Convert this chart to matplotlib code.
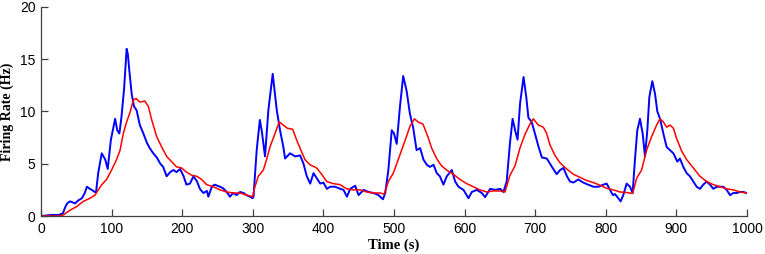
import matplotlib
matplotlib.use("Agg")
import matplotlib.pyplot as plt

# Blue trace (measured firing rate)
t_blue = [0, 15, 25, 31, 34, 37, 41, 45, 48, 53, 58, 62, 65, 69, 72, 76, 78, 81, 86, 91, 94.5, 99, 105, 108, 111, 114,
          117.6, 121.3, 123, 125, 128.4, 131.7, 135.5, 140, 145, 150, 154, 159, 164, 169, 173, 178, 183, 187.5, 192,
          197, 202, 206, 211, 216, 221, 225, 230, 235, 237, 242, 246, 253.5, 258, 263, 267.6, 272, 277, 282, 287, 291,
          296, 299.8,
          301, 305.5, 310, 313, 317.3, 322, 328.2, 334, 338.6, 343.3, 345.7, 352.8, 360, 367, 371.8, 376.5, 381.3, 386,
          390.7, 395.5, 400, 405, 409.6, 416.7, 423.8, 428.5, 433.3, 438, 445, 449.8, 457, 464, 471, 478, 484.3, 487.6,
          492, 496.8, 500, 503.8, 508.5, 513, 517.8, 522.5, 527.3, 532, 537, 541.7, 546.5, 551, 556, 560.6, 565, 570,
          574.8, 581.8, 586.6, 591.3, 598.4, 605.5, 610.2, 617.3, 624.4, 629, 636.2, 643.3, 650.4, 655,
          659.6, 664.3, 668, 671.5, 675, 678.6, 683.5, 687.5, 690.4, 695, 700, 704.8, 709.5, 716.4, 721, 725.6, 730.4,
          735.3, 740, 745, 749.3, 754.2, 761, 768, 775, 782.5, 789.5, 796.5, 801.2, 806, 810, 813, 817.7, 821, 824.8,
          829.5, 834.3, 838,
          841.3, 844.6, 848.4, 852.2, 855.5, 858.8, 861.7, 865.9, 869.7, 873, 876.8, 881.5, 886.2, 891, 895.7, 901.3,
          905, 909.8, 914.5, 919.2, 924, 928.7, 933.4, 938.1, 942.8, 947.6, 952.3, 957, 961.8, 966.5, 971.2, 976,
          980.6, 985.4, 990, 994.8, 999.5]
blue = [0, 0.1, 0.1, 0.25, 0.8, 1.2, 1.4, 1.3, 1.2, 1.5, 1.7, 2.2, 2.8, 2.6, 2.5, 2.3, 2.3, 4.1, 6.0, 5.4, 4.5, 7.3, 9.3,
        8.2, 7.9, 9.5, 12.1, 16.0, 15.5, 14.0, 11.7, 10.5, 10.1, 8.7, 7.9, 7.0, 6.5, 6.0, 5.6, 5.0, 4.7, 3.8, 4.2, 4.4,
        4.2, 4.5, 3.8, 3.0, 3.1, 3.8, 3.3, 2.6, 2.2, 2.4, 1.85, 2.8, 3.0, 2.8, 2.65, 2.3, 1.85, 2.2, 2.0, 2.3, 2.2, 2.0,
        1.85, 1.7,
        1.85, 6.3, 9.2, 8.0, 5.7, 10.1, 13.6, 10.1, 8.2, 6.6, 5.5, 6.0, 5.7, 5.8, 5.0, 3.8, 3.1, 4.1, 3.6, 3.1, 3.2, 2.6,
        2.8, 2.8, 2.6, 2.5, 1.85, 2.6, 2.9, 2.0, 2.5, 2.3, 2.2, 2.0, 1.6, 2.2,
        4.4, 8.2, 7.9, 6.9, 10.5, 13.4, 12.0, 9.8, 8.4, 6.3, 6.5, 5.4, 4.9, 4.7, 4.9, 4.1, 3.8, 3.0, 3.8, 4.4, 3.3, 2.8,
        2.5, 1.7, 2.3, 2.5, 2.2, 1.8, 2.6, 2.5, 2.6, 2.3,
        3.3, 7.0, 9.3, 8.2, 7.3, 10.8, 13.3, 11.3, 9.4, 9.0, 7.8, 6.6, 5.6, 5.5, 5.0, 4.5, 4.0, 4.4, 4.6, 3.8, 3.3, 3.2,
        3.5, 3.2, 3.0, 2.8, 2.8, 3.0, 3.1, 2.5, 2.0, 2.1, 1.7, 1.4, 2.0, 3.1, 2.8, 2.2,
        5.4, 8.2, 9.3, 7.9, 5.7, 8.2, 11.4, 12.9, 11.7, 10.0, 9.3, 7.9, 6.6, 6.3, 6.0, 5.2, 5.5, 4.7, 4.1, 3.8, 3.3, 2.8,
        2.6, 3.0, 3.3, 3.0, 2.6, 2.8, 2.8, 2.8, 2.5, 2.0, 2.2, 2.2, 2.3, 2.3, 2.2]

# Red trace (model firing rate)
t_red = [0, 25, 31.6, 41, 50.5, 60, 69.4, 76.5, 81.3, 86, 93, 100, 107, 112, 116.6, 121.3, 126, 130.8, 134.6, 140, 147,
         152, 156.8, 163.8, 171, 178, 185, 192, 199, 206, 213.5, 220.6, 227.6, 234.6, 244, 253.5, 263, 272.4, 282,
         291.3, 299.8, 303, 307.8, 314.9, 319.6, 324.3, 331.4, 337.5, 343.2, 348.9, 356.4, 362, 366.8, 373.9, 381,
         390.4, 397.5, 404.6, 414, 423.5, 433, 442.4, 451.8, 461.3, 470.7, 480.2, 486.3, 492, 499, 506, 515.6, 522.7,
         529, 534, 541, 548.5, 553.3, 560.4, 567.4, 574.5, 584, 593.4, 602.8, 612.3, 621.7, 631.2, 640.6, 650, 657.2,
         664.3, 671.4, 678.4, 685.5, 692.6, 697.3, 704.4, 711.5, 716.2, 720.9, 728, 735, 744.5, 754, 763.4, 772.8,
         782.3, 791.7, 801.2, 810.6, 820, 829.5, 838, 843.6, 850.7, 857.8, 864.9, 872, 876.8, 881.5, 886.2, 891, 895.7,
         900.4, 907.5, 914.5, 924, 933.4, 942.8, 952.3, 961.8, 971.2, 980.6, 990, 999.5]
red = [0, 0, 0.1, 0.55, 0.9, 1.4, 1.7, 2.0, 2.5, 3.0, 3.5, 4.4, 5.4, 6.3, 7.9, 9.0, 9.9, 11.1, 11.25, 10.9, 11.0, 10.5,
       9.2, 7.6, 6.6, 5.7, 5.2, 4.7, 4.6, 4.2, 3.9, 3.8, 3.5, 3.0, 2.8, 2.5, 2.3, 2.2, 2.2, 2.0, 1.85, 2.8, 3.8, 4.4,
       5.4, 6.6, 7.9, 9.0, 8.7, 8.4, 8.3, 7.3, 6.5, 5.4, 4.9, 4.6, 4.0, 3.3, 3.1, 3.0, 2.6, 2.5, 2.5, 2.3, 2.2, 2.2, 2.1,
       3.3, 4.1, 5.4, 7.2, 8.6, 9.3, 9.0, 8.8, 7.5, 6.5, 5.5, 4.8, 4.4, 4.0, 3.5, 3.1, 2.8, 2.5, 2.3, 2.4, 2.4, 2.3,
       3.9, 4.8, 6.5, 7.8, 8.8, 9.3, 8.7, 8.5, 7.9, 6.8, 5.8, 5.1, 4.5, 4.0, 3.7, 3.4, 3.2, 2.95, 2.65, 2.5, 2.3, 2.25,
       2.15, 3.6, 4.4, 6.3, 7.6, 8.7, 9.3, 9.0, 8.5, 8.7, 8.4, 7.4, 6.2, 5.4, 4.6, 3.8, 3.3, 3.0, 2.8, 2.6, 2.5, 2.3,
       2.2]

x_ticks = [0, 100, 200, 300, 400, 500, 600, 700, 800, 900, 1000]
y_ticks = [0, 5, 10, 15, 20]

fig = plt.figure(figsize=(7.65, 2.54), dpi=100)
ax = fig.add_axes([41 / 765, 1 - 216 / 254, (747 - 41) / 765, (216 - 7) / 254])

ax.plot(t_blue, blue, color="#0000ff", lw=1.4)
ax.plot(t_red, red, color="#ff0000", lw=1.1)

ax.set_xlim(0, 1000)
ax.set_ylim(0, 20)
ax.set_xticks(x_ticks)
ax.set_yticks(y_ticks)
for s in ["top", "right"]:
    ax.spines[s].set_visible(False)
for s in ["left", "bottom"]:
    ax.spines[s].set_color("#404040")
    ax.spines[s].set_linewidth(0.9)
ax.tick_params(direction="in", length=5, width=0.9, color="#404040", labelsize=10, pad=4)
for lab in ax.get_xticklabels() + ax.get_yticklabels():
    lab.set_fontfamily("Liberation Sans")

ax.set_xlabel("Time (s)", fontfamily="Liberation Serif", fontweight="bold", fontsize=10.5)
ax.set_ylabel("Firing Rate (Hz)", fontfamily="Liberation Serif", fontweight="bold", fontsize=10)
ax.xaxis.set_label_coords(0.5, -0.11)
ax.xaxis.label.set_va("top")
ax.yaxis.set_label_coords(-0.038, 0.5)

fig.savefig("out.png", dpi=100)
